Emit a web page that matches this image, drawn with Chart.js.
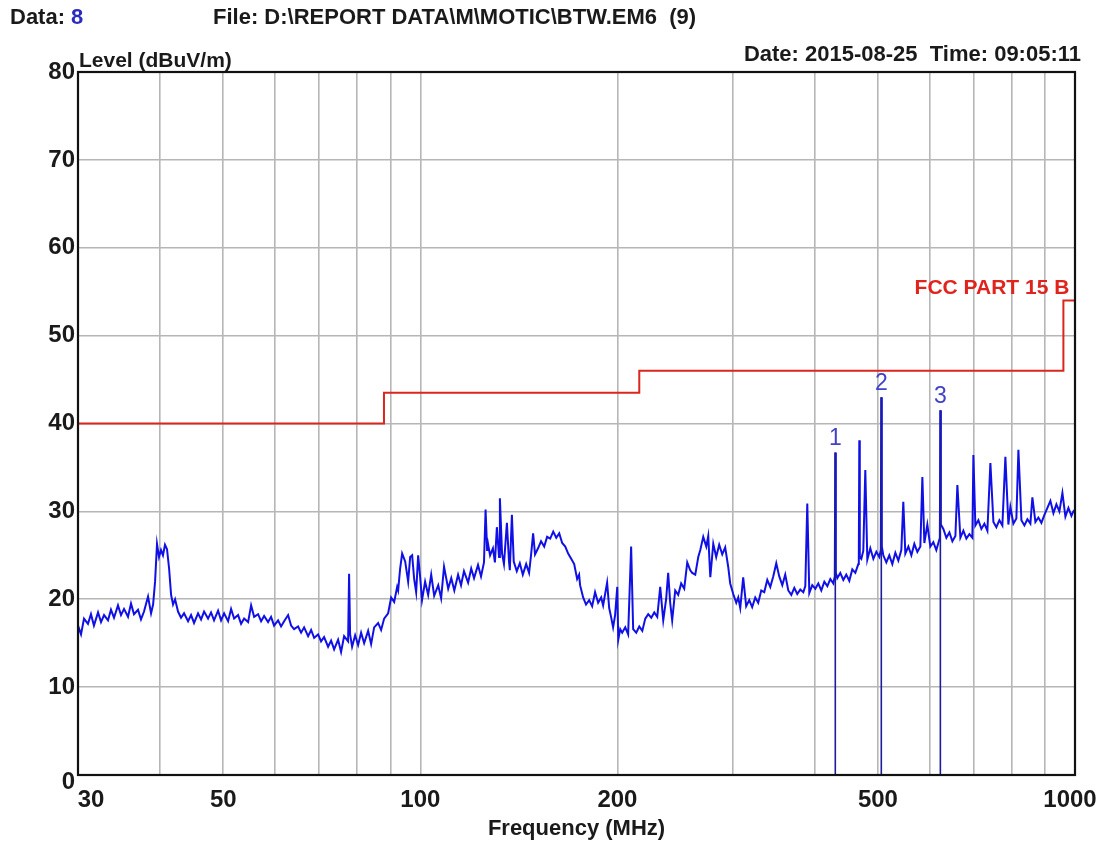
<!DOCTYPE html>
<html>
<head>
<meta charset="utf-8">
<script src="https://cdn.jsdelivr.net/npm/chart.js@4.4.0/dist/chart.umd.min.js"></script>
<style>
  html, body { margin: 0; padding: 0; background: #fff; }
  #wrap { position: relative; width: 1101px; height: 841px; }
</style>
</head>
<body>
<div id="wrap"><canvas id="emiChart" width="1101" height="841"></canvas></div>
<script>
// scan trace (MHz / dBuV/m)
const freqMHz = [
  30.00, 30.32, 30.64, 31.07, 31.40, 31.73, 32.19, 32.53, 32.88, 33.34, 33.69, 34.05,
  34.53, 34.90, 35.27, 35.77, 36.15, 36.53, 37.05, 37.44, 37.84, 38.38, 38.79, 39.07,
  39.34, 39.61, 39.89, 40.17, 40.45, 40.74, 41.03, 41.33, 41.62, 41.91, 42.21, 42.65,
  43.10, 43.56, 44.18, 44.65, 45.12, 45.76, 46.25, 46.74, 47.40, 47.90, 48.41, 49.10,
  49.62, 50.15, 50.86, 51.40, 51.95, 52.68, 53.24, 53.81, 54.57, 55.15, 55.74, 56.52,
  57.12, 57.73, 58.54, 59.16, 59.79, 60.64, 61.28, 61.94, 62.81, 63.48, 64.15, 65.06,
  65.75, 66.45, 67.39, 68.11, 68.83, 69.80, 70.54, 71.29, 72.30, 73.07, 73.85, 74.89,
  75.68, 76.49, 77.57, 77.84, 78.12, 78.67, 79.51, 80.35, 81.20, 82.07, 83.23, 84.11,
  85.01, 86.21, 87.12, 88.05, 89.30, 90.25, 91.21, 92.17, 92.50, 93.15, 93.81, 94.81,
  95.81, 96.49, 97.17, 97.86, 98.55, 99.24, 99.94, 100.6, 101.7, 102.8, 103.9, 105.0,
  106.5, 107.6, 108.7, 110.3, 111.5, 112.7, 114.2, 115.4, 116.6, 118.3, 119.6, 120.8,
  122.5, 123.8, 125.1, 125.8, 126.5, 126.9, 127.8, 129.1, 130.0, 130.9, 131.9, 132.3,
  133.3, 134.2, 135.6, 136.6, 137.0, 138.0, 138.9, 140.4, 141.9, 143.4, 145.1, 146.6,
  147.6, 148.7, 149.7, 151.3, 152.9, 154.6, 156.2, 157.9, 159.6, 161.3, 163.0, 164.7,
  166.5, 168.2, 170.0, 171.8, 173.6, 174.8, 175.4, 177.3, 179.1, 181.1, 183.0, 184.9,
  186.9, 188.9, 190.2, 192.9, 194.3, 195.6, 197.0, 198.4, 199.9, 200.6, 202.0, 203.4,
  205.6, 207.7, 209.9, 211.4, 213.7, 216.0, 218.3, 220.6, 222.9, 225.3, 227.7, 230.1,
  232.5, 235.0, 237.4, 239.1, 240.8, 242.5, 245.1, 247.7, 250.3, 253.0, 255.7, 258.4,
  260.2, 263.0, 265.8, 267.7, 270.5, 273.4, 275.3, 277.3, 280.2, 283.1, 286.1, 289.2,
  292.2, 295.3, 297.4, 300.6, 303.8, 305.9, 308.1, 311.3, 314.6, 318.0, 321.3, 324.8,
  328.2, 331.7, 335.2, 338.8, 342.4, 346.0, 349.7, 353.4, 357.2, 360.9, 364.8, 368.7,
  372.6, 376.5, 380.5, 384.6, 387.3, 390.0, 392.8, 396.9, 401.2, 405.4, 409.7, 414.1,
  418.5, 422.9, 427.4, 429.6, 430.4, 431.2, 433.4, 438.0, 442.7, 447.3, 452.1, 456.9,
  461.8, 466.7, 467.5, 468.3, 469.1, 471.6, 474.9, 478.3, 481.7, 486.8, 492.0, 497.2,
  502.5, 505.1, 506.0, 506.9, 509.6, 515.0, 520.4, 526.0, 531.6, 537.2, 542.9, 546.7,
  550.6, 556.5, 562.4, 568.3, 574.4, 580.5, 584.6, 588.7, 594.9, 601.2, 607.6, 614.0,
  618.4, 621.7, 622.8, 623.9, 629.4, 636.1, 642.9, 649.7, 656.6, 661.2, 668.2, 675.3,
  682.4, 689.7, 697.0, 699.5, 704.4, 711.9, 719.4, 727.1, 734.8, 742.6, 750.5, 758.4,
  766.5, 774.6, 782.8, 791.1, 796.7, 805.2, 813.7, 819.5, 828.2, 837.0, 845.8, 854.8,
  860.8, 870.0, 879.2, 888.5, 898.0, 907.5, 917.1, 926.9, 936.7, 946.6, 956.7, 966.8,
  977.1, 987.5, 994.4, 1000
];
const levelDb = [
  17.0, 16.0, 17.8, 17.2, 18.3, 17.0, 18.5, 17.4, 18.2, 17.6, 18.8, 17.9,
  19.3, 18.2, 18.9, 18.0, 19.5, 18.3, 18.8, 17.7, 18.6, 20.3, 18.4, 19.4,
  22.0, 26.3, 24.8, 25.6, 25.0, 26.2, 25.7, 23.5, 20.5, 19.4, 20.0, 18.6,
  17.9, 18.4, 17.5, 18.2, 17.3, 18.4, 17.7, 18.6, 17.8, 18.5, 17.6, 18.7,
  17.6, 18.4, 17.5, 18.9, 17.8, 18.2, 17.2, 17.8, 17.4, 19.3, 18.0, 18.3,
  17.5, 18.1, 17.4, 18.0, 17.0, 17.6, 16.9, 17.5, 18.2, 17.0, 16.6, 16.9,
  16.2, 16.8, 15.8, 16.5, 15.6, 16.0, 15.2, 15.7, 14.6, 15.3, 14.3, 15.4,
  14.0, 15.8, 15.2, 22.9, 16.0, 14.6, 15.9, 14.8, 16.2, 15.0, 16.4, 14.9,
  16.8, 17.3, 16.5, 17.8, 18.4, 20.2, 19.7, 21.4, 21.0, 23.5, 25.2, 24.3,
  22.0, 24.8, 25.0, 22.3, 20.8, 25.0, 22.5, 19.9, 22.0, 20.5, 22.8, 20.4,
  21.6, 20.1, 23.7, 21.2, 22.4, 21.0, 22.8, 21.6, 23.2, 21.9, 23.5, 22.4,
  23.9, 22.6, 24.2, 30.2, 25.5, 26.3, 25.0, 25.8, 24.2, 28.2, 24.8, 31.5,
  25.2, 24.0, 28.7, 24.3, 23.3, 29.6, 24.3, 23.2, 24.1, 22.8, 24.0, 23.0,
  25.0, 27.5, 25.1, 25.8, 26.6, 26.0, 27.1, 26.9, 27.7, 27.0, 27.5, 26.4,
  26.0, 25.2, 24.6, 24.0, 22.3, 22.8, 21.6, 20.2, 19.4, 19.9, 19.2, 20.8,
  19.6, 20.2, 19.3, 21.9, 19.0, 18.0, 16.8, 18.2, 21.4, 15.4, 16.6, 16.2,
  16.8, 16.0, 26.0, 16.6, 16.2, 16.9, 16.4, 17.8, 18.3, 17.9, 18.5, 18.0,
  21.4, 17.6, 20.0, 23.0, 19.6, 17.6, 21.0, 20.5, 21.8, 21.2, 24.2, 23.3,
  23.0, 22.8, 24.8, 25.6, 27.1, 26.0, 27.2, 22.5, 26.3, 24.8, 26.2, 25.1,
  25.9, 23.7, 21.8, 20.6, 19.6, 20.2, 19.0, 22.5, 19.2, 19.9, 19.1, 20.2,
  19.6, 21.0, 20.8, 22.2, 21.4, 22.6, 24.1, 22.6, 21.6, 22.8, 21.0, 20.5,
  21.3, 20.6, 21.1, 20.8, 21.5, 30.9, 20.7, 21.6, 21.2, 21.8, 21.0, 22.0,
  21.5, 22.3, 21.8, 22.6, 36.7, 23.0, 22.4, 23.0, 22.2, 22.8, 22.1, 23.4,
  23.0, 24.0, 24.3, 38.1, 24.8, 24.6, 25.5, 34.7, 24.5, 25.8, 24.6, 25.4,
  24.8, 25.6, 43.0, 26.0, 25.0, 24.2, 25.0, 24.0, 25.3, 24.4, 25.6, 31.1,
  25.2, 26.0, 25.0, 26.3, 25.4, 26.0, 33.9, 26.4, 28.5, 26.0, 26.5, 25.6,
  26.4, 27.0, 41.5, 28.5, 28.0, 27.0, 27.6, 26.6, 27.2, 33.0, 27.0, 27.8,
  26.9, 27.4, 27.0, 36.4, 28.4, 29.0, 28.0, 28.6, 27.8, 35.5, 28.8, 28.2,
  29.0, 28.4, 36.2, 28.5, 30.5, 28.6, 29.2, 37.0, 29.0, 28.4, 29.1, 28.6,
  31.6, 28.8, 29.3, 28.7, 29.6, 30.4, 31.2, 29.8, 30.8, 30.0, 32.1, 29.4,
  30.4, 29.5, 30.0, 30.2
];

// FCC Part 15 class B limit (steps)
const limitFreq = [30, 88, 88, 216, 216, 960, 960, 1000];
const limitLevel = [40, 40, 43.5, 43.5, 46, 46, 54, 54];

// peak markers
const markerNames = ['1', '2', '3'];
const markerFreq = [430.4, 506.0, 622.8];
const markerLevel = [36.7, 43.0, 41.5];

const gridFreqs = [30, 40, 50, 60, 70, 80, 90, 100, 200, 300, 400, 500, 600, 700, 800, 900, 1000];
const freqLabels = [30, 50, 100, 200, 500, 1000];
const levelTicks = [0, 10, 20, 30, 40, 50, 60, 70, 80];

const FONT = "'Liberation Sans', Arial, sans-serif";

const tracePoints = freqMHz.map((f, i) => ({ x: f, y: levelDb[i] }));
const limitPoints = limitFreq.map((f, i) => ({ x: f, y: limitLevel[i] }));
const markerPoints = [];
markerFreq.forEach((f, i) => {
  markerPoints.push({ x: f, y: 0 }, { x: f, y: markerLevel[i] }, { x: f, y: null });
});

// texts around the plot (header, tick labels, marker numbers)
const textPlugin = {
  id: 'emiText',
  afterDraw(chart) {
    const { ctx, chartArea: a, scales } = chart;
    const xs = scales.x, ys = scales.y;
    ctx.save();

    // frame
    ctx.strokeStyle = '#111';
    ctx.lineWidth = 2.2;
    ctx.strokeRect(a.left, a.top, a.right - a.left, a.bottom - a.top);

    ctx.fillStyle = '#1a1a1a';
    ctx.textBaseline = 'alphabetic';

    // header line
    ctx.font = `bold 22px ${FONT}`;
    ctx.textAlign = 'left';
    ctx.fillText('Data: ', 10, 24);
    const w = ctx.measureText('Data: ').width;
    ctx.fillStyle = '#2b2bc0';
    ctx.fillText('8', 10 + w, 24);
    ctx.fillStyle = '#1a1a1a';
    ctx.fillText('File: D:\\REPORT DATA\\M\\MOTIC\\BTW.EM6  (9)', 213, 24);

    ctx.font = `bold 21px ${FONT}`;
    ctx.fillText('Level (dBuV/m)', a.left + 1, 67);
    ctx.font = `bold 22px ${FONT}`;
    ctx.textAlign = 'right';
    ctx.fillText('Date: 2015-08-25  Time: 09:05:11', 1081, 61);

    // y tick labels
    ctx.font = `bold 24px ${FONT}`;
    ctx.textAlign = 'right';
    ctx.textBaseline = 'middle';
    levelTicks.forEach(v => {
      const py = ys.getPixelForValue(v) + (v === 0 ? 7 : 0);
      ctx.fillText(String(v), a.left - 3, py);
    });

    // x tick labels
    ctx.textAlign = 'center';
    ctx.textBaseline = 'alphabetic';
    freqLabels.forEach(f => {
      let px = xs.getPixelForValue(f);
      if (f === 30) px += 13;
      if (f === 1000) px -= 5;
      ctx.fillText(String(f), px, a.bottom + 32);
    });

    ctx.font = `bold 22px ${FONT}`;
    ctx.fillText('Frequency (MHz)', (a.left + a.right) / 2, 835);

    // limit name
    ctx.fillStyle = '#e0231c';
    ctx.font = `bold 21px ${FONT}`;
    ctx.textAlign = 'right';
    ctx.fillText('FCC PART 15 B', xs.getPixelForValue(960) + 6, ys.getPixelForValue(54) - 6);

    // marker numbers
    ctx.fillStyle = '#4242c8';
    ctx.font = `23px ${FONT}`;
    ctx.textAlign = 'center';
    markerFreq.forEach((f, i) => {
      ctx.fillText(markerNames[i], xs.getPixelForValue(f), ys.getPixelForValue(markerLevel[i]) - 7);
    });

    ctx.restore();
  }
};

new Chart(document.getElementById('emiChart'), {
  type: 'line',
  data: {
    datasets: [
      {
        label: 'Markers',
        data: markerPoints,
        borderColor: '#1c1c9c',
        borderWidth: 1.6,
        pointRadius: 0,
        spanGaps: false
      },
      {
        label: 'Level',
        data: tracePoints,
        borderColor: '#1010e6',
        borderWidth: 2,
        pointRadius: 0,
        tension: 0
      },
      {
        label: 'FCC PART 15 B',
        data: limitPoints,
        borderColor: '#d9261f',
        borderWidth: 2,
        pointRadius: 0,
        tension: 0
      }
    ]
  },
  options: {
    responsive: false,
    animation: false,
    devicePixelRatio: 1,
    layout: { padding: { left: 78, top: 72, right: 26, bottom: 66 } },
    plugins: {
      legend: { display: false },
      tooltip: { enabled: false }
    },
    scales: {
      x: {
        type: 'logarithmic',
        min: 30,
        max: 1000,
        afterBuildTicks: (scale) => { scale.ticks = gridFreqs.map(v => ({ value: v })); },
        ticks: { display: false },
        grid: { color: '#b6b6b6', lineWidth: 1.6, drawTicks: false },
        border: { display: false }
      },
      y: {
        min: 0,
        max: 80,
        ticks: { display: false, stepSize: 10 },
        grid: { color: '#b6b6b6', lineWidth: 1.6, drawTicks: false },
        border: { display: false }
      }
    }
  },
  plugins: [textPlugin]
});
</script>
</body>
</html>
